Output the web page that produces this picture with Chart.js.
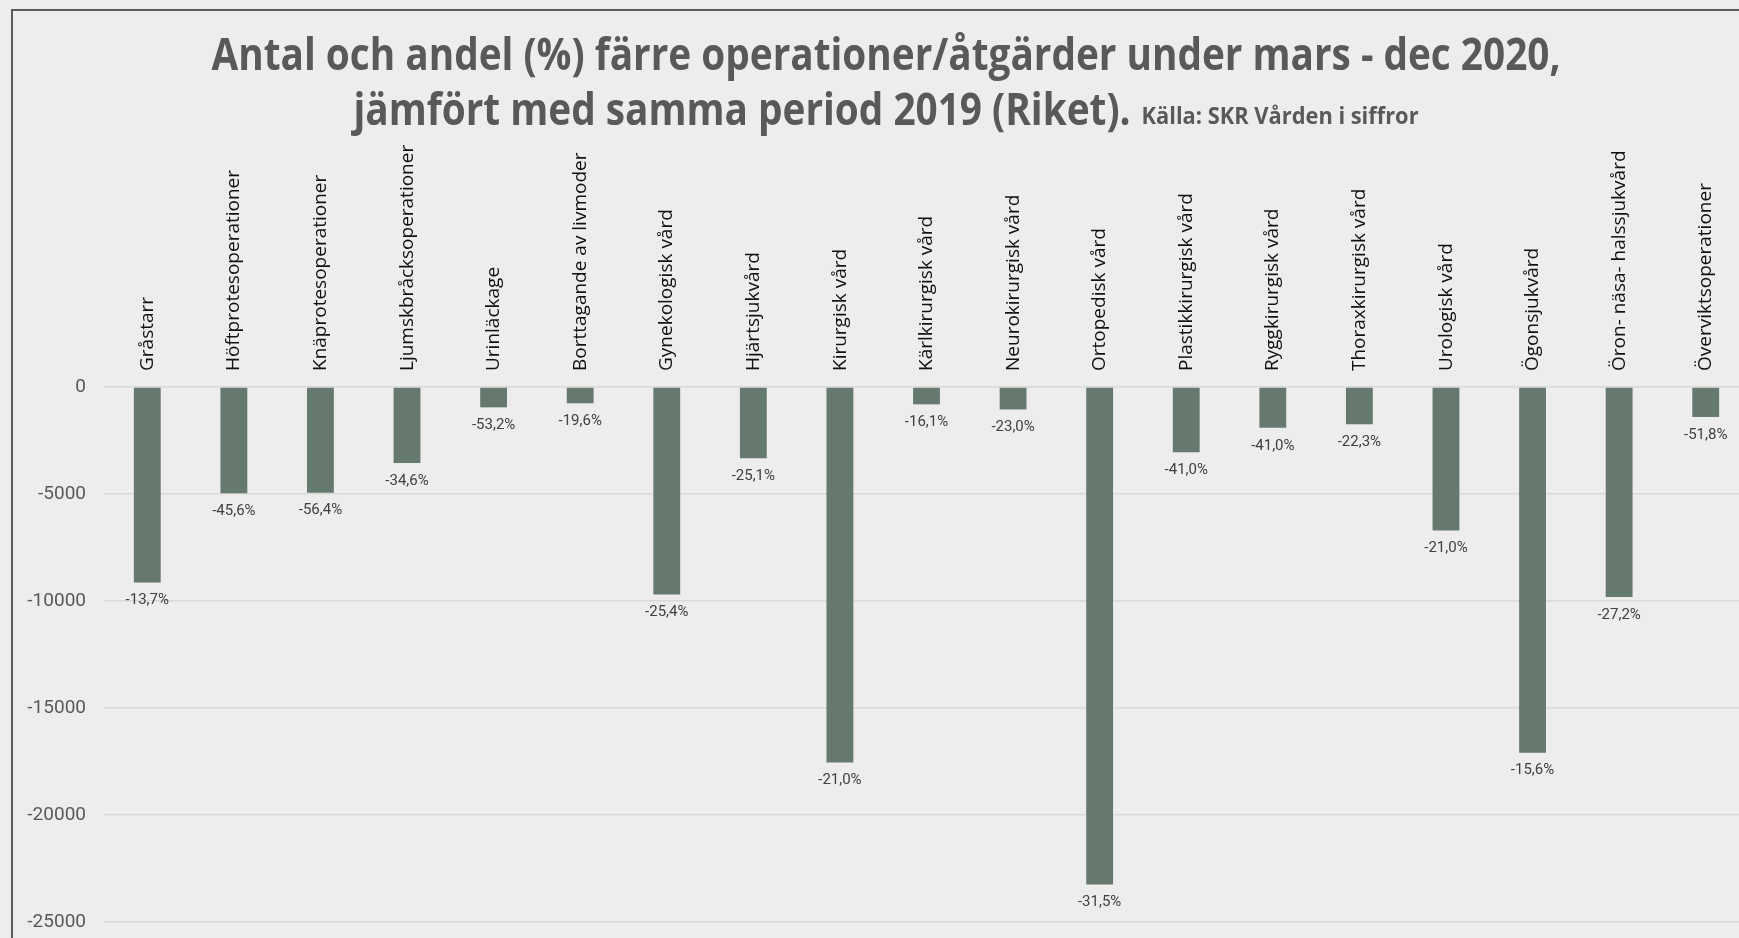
<!DOCTYPE html>
<html>

<head>
  <title>Färre operationer 2020</title>
  <script src="https://cdn.jsdelivr.net/npm/chart.js@4.4.1/dist/chart.umd.min.js"></script>
  <style>
    html, body { margin: 0; padding: 0; overflow: hidden; background: #ededed; }
    canvas { display: block; }
  </style>
</head>

<body>
  <canvas id="bar-chart" width="1760" height="938"></canvas>
  <script>

    var categories = ["Gråstarr", "Höftprotesoperationer", "Knäprotesoperationer", "Ljumskbråcksoperationer",
      "Urinläckage", "Borttagande av livmoder", "Gynekologisk vård", "Hjärtsjukvård", "Kirurgisk vård",
      "Kärlkirurgisk vård", "Neurokirurgisk vård", "Ortopedisk vård", "Plastikkirurgisk vård",
      "Ryggkirurgisk vård", "Thoraxkirurgisk vård", "Urologisk vård", "Ögonsjukvård",
      "Öron- näsa- halssjukvård", "Överviktsoperationer"];
    var antal = [-9140, -4970, -4940, -3550, -950, -760, -9700, -3330, -17550,
      -810, -1050, -23250, -3050, -1910, -1740, -6700, -17090, -9810, -1400];
    var andel = ["-13,7%", "-45,6%", "-56,4%", "-34,6%", "-53,2%", "-19,6%", "-25,4%", "-25,1%", "-21,0%",
      "-16,1%", "-23,0%", "-31,5%", "-41,0%", "-41,0%", "-22,3%", "-21,0%", "-15,6%", "-27,2%", "-51,8%"];
    var yMin = -25000;
    var yMax = 0;
    var yStep = 5000;

    var titleLine1 = "Antal och andel (%) färre operationer/åtgärder under mars - dec 2020,";
    var titleLine2 = "jämfört med samma period 2019 (Riket).";
    var sourceText = "Källa: SKR Vården i siffror";

    var narrow = "'Liberation Sans Narrow', 'Roboto', sans-serif";

    // frame, title and the % labels under each bar
    var decorPlugin = {
      id: 'decor',
      beforeDraw: function (chart) {
        var ctx = chart.ctx;
        ctx.save();
        ctx.strokeStyle = '#5a5a5a';
        ctx.lineWidth = 2;
        ctx.beginPath();
        ctx.moveTo(12, chart.height);
        ctx.lineTo(12, 10);
        ctx.lineTo(chart.width, 10);
        ctx.stroke();
        ctx.restore();
      },
      afterDraw: function (chart) {
        var ctx = chart.ctx;
        var cx = 886;
        ctx.save();
        ctx.fillStyle = '#595959';
        ctx.textBaseline = 'alphabetic';

        // line 1, squeezed to the width of the original
        ctx.font = "bold 45px 'Open Sans', sans-serif";
        var w1 = ctx.measureText(titleLine1).width;
        var sx = 1349 / w1;
        ctx.save();
        ctx.translate(cx - 1349 / 2, 70);
        ctx.scale(sx, 1);
        ctx.fillText(titleLine1, 0, 0);
        ctx.restore();

        // line 2 + source
        var w2 = ctx.measureText(titleLine2).width * sx;
        ctx.font = "bold 23px 'Open Sans', sans-serif";
        var ws = ctx.measureText(sourceText).width;
        var sxs = 277 / ws;
        var total = w2 + 11 + 277;
        var x0 = cx - total / 2;
        ctx.font = "bold 45px 'Open Sans', sans-serif";
        ctx.save();
        ctx.translate(x0, 125);
        ctx.scale(sx, 1);
        ctx.fillText(titleLine2, 0, 0);
        ctx.restore();
        ctx.font = "bold 23px 'Open Sans', sans-serif";
        ctx.save();
        ctx.translate(x0 + w2 + 11, 124);
        ctx.scale(sxs, 1);
        ctx.fillText(sourceText, 0, 0);
        ctx.restore();
        ctx.restore();
      },
      afterDatasetsDraw: function (chart) {
        var ctx = chart.ctx;
        var meta = chart.getDatasetMeta(0);
        ctx.save();
        ctx.font = "15px " + narrow;
        ctx.fillStyle = '#404040';
        ctx.textAlign = 'center';
        ctx.textBaseline = 'middle';
        meta.data.forEach(function (bar, i) {
          ctx.fillText(andel[i], bar.x, bar.y + 18);
        });
        ctx.restore();
      }
    };

    var chart = new Chart(document.getElementById("bar-chart"), {
      type: 'bar',
      data: {
        labels: categories,
        datasets: [
          {
            data: antal,
            backgroundColor: '#65796f',
            barPercentage: 0.31,
            categoryPercentage: 1
          }
        ]
      },
      options: {
        responsive: false,
        animation: false,
        layout: { padding: { left: 0, right: 11, top: 0, bottom: 16 } },
        plugins: {
          legend: { display: false },
          title: { display: false },
          tooltip: { enabled: false }
        },
        scales: {
          x: {
            position: 'top',
            grid: { display: false, drawTicks: false },
            border: { display: false },
            ticks: {
              autoSkip: false,
              maxRotation: 90,
              minRotation: 90,
              padding: 16,
              labelOffset: 23,
              color: '#111111',
              font: { family: "'Open Sans', sans-serif", size: 19 }
            },
            afterFit: function (scale) { scale.height = 387; }
          },
          y: {
            min: yMin,
            max: yMax,
            grid: { color: '#d9d9d9', lineWidth: 1.5, drawTicks: false },
            border: { display: false },
            ticks: {
              stepSize: yStep,
              padding: 18,
              color: '#595959',
              font: { family: narrow, size: 19 },
              callback: function (v) { return String(v); }
            },
            afterFit: function (scale) {
              scale.width = 104;
              scale.paddingTop = 0;
              scale.paddingBottom = 0;
            }
          }
        }
      },
      plugins: [decorPlugin]
    });

  </script>
</body>

</html>
